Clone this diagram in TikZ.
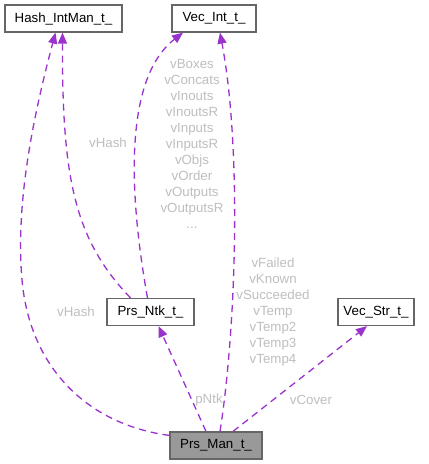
\documentclass[tikz,border=0pt]{standalone}
\usepackage{fontspec}
\setmainfont{Liberation Sans}
\usepackage{tikz}
\usetikzlibrary{arrows.meta}

\definecolor{edgepurple}{HTML}{9A32CD}
\definecolor{labelgrey}{HTML}{BEBEBE}
\definecolor{boxgrey}{HTML}{666666}
\definecolor{mangrey}{HTML}{999999}

\begin{document}
\begin{tikzpicture}[
    x=1pt, y=-1pt,
    box/.style={rectangle, draw=boxgrey, line width=1.2pt, fill=white, align=center, minimum height=27pt, inner sep=0pt, font=\fontsize{13.3}{16}\selectfont},
    mainbox/.style={box, fill=mangrey},
    rel/.style={draw=edgepurple, line width=1.3pt, dash pattern=on 7pt off 5pt, -{Triangle[length=11pt, width=9pt, fill=edgepurple]}},
    lbl/.style={text=labelgrey, align=center, inner sep=0pt, font=\fontsize{13.3}{16}\selectfont}
]
\useasboundingbox (0,0) rectangle (429,464);

\node[box, minimum width=117pt] (hash) at (63.5,18.5) {Hash\_IntMan\_t\_};
\node[box, minimum width=84pt] (vint) at (214,18.5) {Vec\_Int\_t\_};
\node[box, minimum width=87pt] (ntk) at (150.5,312) {Prs\_Ntk\_t\_};
\node[box, minimum width=76pt] (vstr) at (376,312) {Vec\_Str\_t\_};
\node[mainbox, minimum width=92pt] (man) at (216,445.5) {Prs\_Man\_t\_};

% relations
\draw[rel] ([yshift=-4pt]man.north west) .. controls (90,425) and (30,370) .. (22,280)
    .. controls (15,200) and (35,110) .. ([xshift=-8pt]hash.south);
\draw[rel] ([xshift=-20pt]ntk.north) .. controls (75,240) and (62,180) .. ([xshift=-1pt]hash.south);
\draw[rel] ([xshift=-3pt]ntk.north) .. controls (130,200) and (122,80) .. ([xshift=-31pt]vint.south);
\draw[rel] ([xshift=4pt]man.north) .. controls (236,330) and (242,150) .. ([xshift=6pt]vint.south);
\draw[rel] ([xshift=-10pt]man.north) -- ([xshift=8pt]ntk.south);
\draw[rel] ([xshift=17pt]man.north) -- ([xshift=-9pt]vstr.south);

% labels
\node[lbl] (l1) at (76,312) {vHash};
\node[lbl] (l2) at (108,143) {vHash};
\node[lbl] (l3) at (192,144) {vBoxes\\vConcats\\vInouts\\vInoutsR\\vInputs\\vInputsR\\vObjs\\vOrder\\vOutputs\\vOutputsR\\...};
\node[lbl] (l4) at (273,312) {vFailed\\vKnown\\vSucceeded\\vTemp\\vTemp2\\vTemp3\\vTemp4};
\node[lbl] (l5) at (209,400) {pNtk};
\node[lbl] (l6) at (311,400) {vCover};
\end{tikzpicture}
\end{document}
